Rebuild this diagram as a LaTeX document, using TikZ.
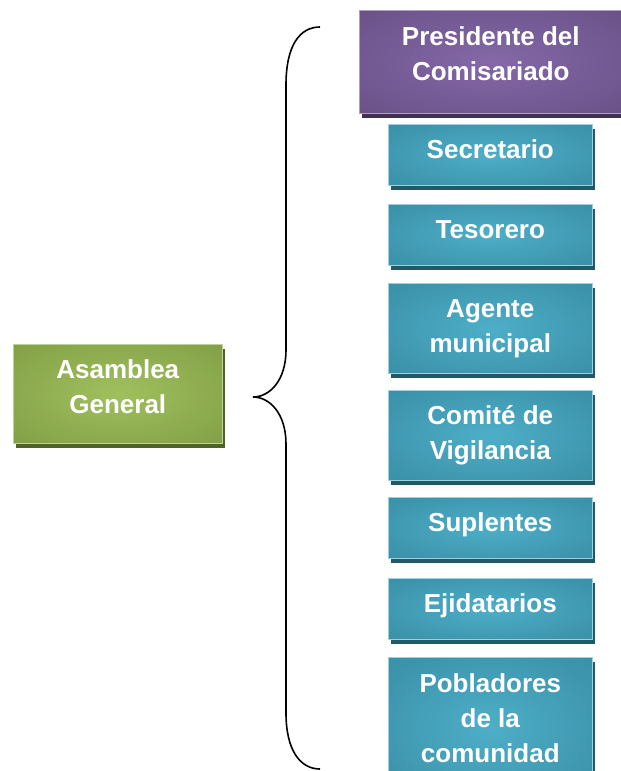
\documentclass[tikz,border=0pt]{standalone}
\usepackage{fontspec}
\setmainfont{Liberation Sans}
\usetikzlibrary{shadows}
\definecolor{tealC}{RGB}{78,174,200}
\definecolor{tealE}{RGB}{49,131,153}
\definecolor{tealS}{RGB}{33,89,104}
\definecolor{tealB}{RGB}{160,208,222}
\definecolor{purC}{RGB}{132,104,168}
\definecolor{purE}{RGB}{95,73,122}
\definecolor{purS}{RGB}{63,49,81}
\definecolor{purB}{RGB}{175,160,195}
\definecolor{grnC}{RGB}{160,192,94}
\definecolor{grnE}{RGB}{118,146,60}
\definecolor{grnS}{RGB}{79,98,40}
\definecolor{grnB}{RGB}{190,210,150}
\pgfdeclareradialshading{tealsh}{\pgfpoint{0bp}{0bp}}{color(0bp)=(tealC); color(50bp)=(tealE); color(75bp)=(tealE)}
\pgfdeclareradialshading{pursh}{\pgfpoint{0bp}{0bp}}{color(0bp)=(purC); color(50bp)=(purE); color(75bp)=(purE)}
\pgfdeclareradialshading{grnsh}{\pgfpoint{0bp}{0bp}}{color(0bp)=(grnC); color(50bp)=(grnE); color(75bp)=(grnE)}
\newcommand{\hs}[1]{\rule{0pt}{#1pt}}
\newcommand{\ds}[1]{\rule[-#1pt]{0pt}{#1pt}}
\tikzset{
  box/.style={anchor=north west, inner sep=0pt, align=center, text=white,
    font=\fontsize{26}{35}\selectfont\bfseries, line width=0.6pt},
  tealbox/.style={box, draw=tealB, shading=tealsh,
    drop shadow={shadow xshift=3pt, shadow yshift=-5pt, fill=tealS, opacity=1}},
  purbox/.style={box, draw=purB, shading=pursh,
    drop shadow={shadow xshift=3pt, shadow yshift=-5pt, fill=purS, opacity=1}},
  grnbox/.style={box, draw=grnB, shading=grnsh,
    drop shadow={shadow xshift=3pt, shadow yshift=-5pt, fill=grnS, opacity=1}},
  bracestyle/.style={draw=black, line width=1.6pt}
}
\begin{document}
\begin{tikzpicture}[x=1pt, y=-1pt]
\useasboundingbox (0,0) rectangle (621,771);
\node[grnbox, minimum width=209pt, minimum height=99pt] (asam) at (13,344)
  {\hs{22}Asamblea\\General\ds{17}};
\node[purbox, minimum width=263pt, minimum height=103pt] (pres) at (359,10)
  {\hs{22}Presidente del\\Comisariado\ds{20}};
\node[tealbox, minimum width=204pt, minimum height=61pt] (secr) at (388,124)
  {\hs{22}Secretario\ds{15}};
\node[tealbox, minimum width=204pt, minimum height=61pt] (teso) at (388,204)
  {\hs{22}Tesorero\ds{15}};
\node[tealbox, minimum width=204pt, minimum height=90pt] (agen) at (388,283)
  {\hs{22}Agente\\municipal\ds{9}};
\node[tealbox, minimum width=204pt, minimum height=90pt] (comi) at (388,390)
  {\hs{22}Comité de\\Vigilancia\ds{9}};
\node[tealbox, minimum width=204pt, minimum height=61pt] (supl) at (388,497)
  {\hs{22}Suplentes\ds{15}};
\node[tealbox, minimum width=204pt, minimum height=61pt] (ejid) at (388,578)
  {\hs{22}Ejidatarios\ds{15}};
\node[tealbox, minimum width=204pt, minimum height=140pt] (pobl) at (388,657)
  {\hs{22}Pobladores\\de la\\comunidad\ds{22}};
\coordinate (btop) at (320,27);
\coordinate (btip) at (253,397);
\coordinate (bbot) at (320,769);
\draw[bracestyle] (btop) .. controls (300,27) and (286,45) .. (286,85)
  -- (286,350) .. controls (286,380) and (270,397) .. (btip)
  .. controls (270,397) and (286,414) .. (286,444)
  -- (286,713) .. controls (286,750) and (300,769) .. (bbot);
\end{tikzpicture}
\end{document}
